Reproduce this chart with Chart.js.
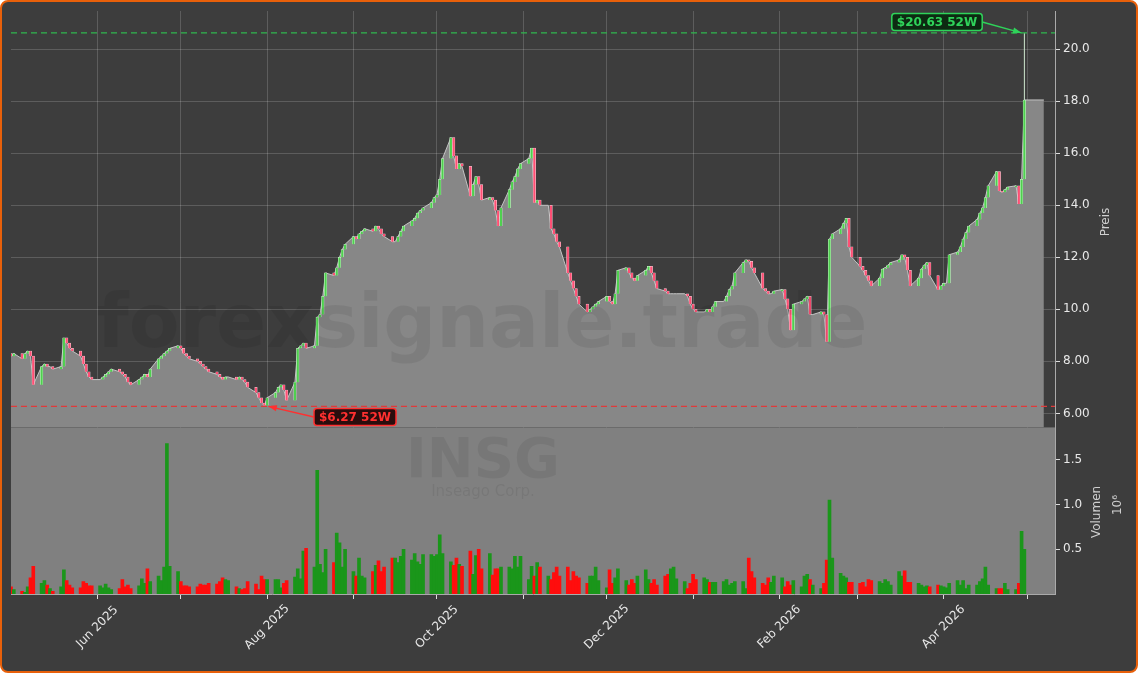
<!DOCTYPE html>
<html lang="en">
<head>
<meta charset="UTF-8">
<title>INSG</title>
<script src="https://cdn.jsdelivr.net/npm/chart.js"></script>
<style>
    body { margin: 0; background: #fff; }
    #box {
        position: absolute; left: 0; top: 0; width: 1134px; height: 669px;
        border: 2px solid #e8600a; border-radius: 8px; background: #3d3d3d;
    }
    #myChart { position: absolute; left: -2px; top: -2px; }
</style>
</head>
<body>
<div id="box"><canvas id="myChart" width="1138" height="673"></canvas></div>
<script>
// daily closes, weekdays from 1 May 2025
const closes = [
    8.2,8.3,8.1,8.3,8.4,8.2,7.1,7.8,7.9,7.8,
    7.8,7.7,7.8,8.9,8.7,8.5,8.4,8.2,7.9,7.6,
    7.4,7.3,7.3,7.4,7.5,7.6,7.7,7.6,7.5,7.4,
    7.2,7.1,7.3,7.4,7.5,7.4,7.7,8.1,8.2,8.3,
    8.4,8.5,8.6,8.5,8.3,8.2,8.1,8.0,7.9,7.8,
    7.7,7.6,7.5,7.4,7.3,7.4,7.4,7.3,7.4,7.3,
    7.2,7.0,6.8,6.6,6.4,6.3,6.6,6.8,7.0,7.1,
    6.9,6.5,7.2,8.5,8.6,8.7,8.5,8.6,9.7,9.8,
    10.5,11.4,11.3,11.6,12.0,12.3,12.5,12.8,12.7,12.9,
    13.0,13.1,13.0,13.2,13.1,12.9,12.8,12.6,12.6,12.8,
    13.0,13.2,13.4,13.5,13.7,13.8,13.9,14.1,14.3,14.4,
    15.0,15.8,16.6,15.9,15.4,15.6,15.5,14.35,14.8,15.1,
    14.8,14.2,14.3,14.2,13.8,13.2,13.9,14.6,14.9,15.1,
    15.4,15.6,15.8,16.2,14.1,14.2,14.0,14.0,13.1,12.9,
    12.6,12.4,11.4,11.1,10.8,10.5,10.2,9.9,10.0,10.1,
    10.2,10.3,10.5,10.3,10.2,10.6,11.5,11.6,11.4,11.2,
    11.1,11.3,11.5,11.65,11.4,11.1,10.8,10.7,10.6,10.6,
    10.6,10.6,10.6,10.5,10.2,10.0,9.9,9.9,10.0,9.9,
    10.1,10.3,10.3,10.5,10.76,10.9,11.4,11.8,11.9,11.85,
    11.6,11.4,10.8,10.7,10.6,10.6,10.7,10.76,10.4,10.0,
    9.2,10.2,10.3,10.4,10.5,9.8,9.8,9.9,9.8,8.75,
    12.7,12.9,13.1,13.3,13.5,12.4,12.0,11.65,11.5,11.3,
    11.1,10.9,11.2,11.55,11.6,11.7,11.8,11.9,12.1,12.0,
    11.5,10.9,11.2,11.55,11.7,11.8,11.3,10.75,10.9,11.0,
    11.0,12.1,12.2,12.4,12.7,12.95,13.2,13.45,13.7,13.9,
    14.3,14.75,15.3,14.55,14.5,14.6,14.7,14.75,14.05,15.0,18.05
];
const firstOpen = 8.3;

// volume in millions
const volumes = [
    0.08,0.05,0.03,0.02,0.08,0.18,0.31,0.12,0.15,0.10,
    0.06,0.03,0.08,0.27,0.15,0.10,0.07,0.07,0.14,0.12,
    0.09,0.09,0.09,0.07,0.11,0.07,0.05,0.06,0.16,0.08,
    0.10,0.06,0.09,0.17,0.12,0.28,0.14,0.20,0.15,0.30,
    1.68,0.31,0.25,0.14,0.09,0.09,0.08,0.08,0.11,0.10,
    0.10,0.12,0.11,0.14,0.18,0.16,0.15,0.08,0.06,0.05,
    0.06,0.14,0.11,0.05,0.20,0.16,0.16,0.16,0.16,0.07,
    0.12,0.15,0.19,0.28,0.17,0.48,0.51,0.30,1.38,0.33,
    0.24,0.50,0.35,0.68,0.57,0.30,0.50,0.25,0.20,0.40,
    0.20,0.18,0.25,0.32,0.37,0.25,0.30,0.40,0.40,0.35,
    0.42,0.50,0.38,0.45,0.36,0.33,0.44,0.44,0.42,0.44,
    0.66,0.45,0.36,0.32,0.40,0.33,0.31,0.48,0.22,0.43,
    0.50,0.28,0.45,0.21,0.28,0.28,0.30,0.30,0.28,0.42,
    0.30,0.42,0.16,0.31,0.20,0.35,0.30,0.20,0.16,0.24,
    0.30,0.20,0.30,0.15,0.25,0.20,0.18,0.12,0.20,0.20,
    0.30,0.15,0.07,0.27,0.12,0.18,0.28,0.15,0.10,0.16,
    0.12,0.20,0.27,0.16,0.12,0.16,0.10,0.20,0.22,0.28,
    0.30,0.17,0.14,0.06,0.12,0.22,0.16,0.18,0.16,0.13,
    0.13,0.13,0.14,0.16,0.10,0.12,0.14,0.14,0.06,0.40,
    0.25,0.18,0.12,0.10,0.18,0.13,0.20,0.18,0.08,0.14,
    0.10,0.15,0.08,0.20,0.22,0.16,0.10,0.06,0.12,0.38,
    1.05,0.40,0.23,0.20,0.18,0.13,0.13,0.12,0.13,0.08,
    0.16,0.15,0.14,0.12,0.16,0.14,0.10,0.25,0.20,0.26,
    0.13,0.13,0.12,0.10,0.08,0.09,0.08,0.10,0.09,0.08,
    0.07,0.12,0.15,0.10,0.15,0.06,0.10,0.10,0.14,0.17,
    0.30,0.10,0.06,0.06,0.06,0.12,0.05,0.05,0.12,0.70,0.50
];

const high52 = 20.63;
const low52 = 6.27;
const priceTicks = [6, 8, 10, 12, 14, 16, 18, 20];
const volTicks = [0.5, 1.0, 1.5];
const monthNames = ['Jan','Feb','Mar','Apr','May','Jun','Jul','Aug','Sep','Oct','Nov','Dec'];

const start = Date.UTC(2025, 4, 1);
const DAY = 86400000;

// trading days (weekdays) from start
const days = [];
let t = start;
while (days.length < closes.length) {
    const wd = new Date(t).getUTCDay();
    if (wd !== 0 && wd !== 6) days.push((t - start) / DAY);
    t += DAY;
}
const monthTicks = [];
for (let m = 5; m <= 16; m++) {
    const d = Date.UTC(2025, m, 1);
    const dt = new Date(d);
    monthTicks.push({ value: (d - start) / DAY, label: (m % 2 === 1) ? monthNames[dt.getUTCMonth()] + ' ' + dt.getUTCFullYear() : '' });
}

const opens = closes.map((c, i) => i === 0 ? firstOpen : closes[i - 1]);
const candleData = closes.map((c, i) => ({ x: days[i], y: [opens[i], c] }));
const up = closes.map((c, i) => c >= opens[i]);
const areaData = closes.map((c, i) => ({ x: days[i], y: c }));
areaData.push({ x: days[days.length - 1] + 7, y: closes[closes.length - 1] });
const volData = volumes.map((v, i) => ({ x: days[i], y: v }));

const overlay = {
    id: 'overlay',
    beforeDatasetsDraw(chart) {
        const { ctx, chartArea: a, scales } = chart;
        const yv = scales.yv;
        ctx.save();
        ctx.fillStyle = '#808080';
        ctx.fillRect(a.left, yv.top, a.right - a.left, yv.bottom - yv.top);
        ctx.restore();
    },
    afterDatasetsDraw(chart) {
        const { ctx, chartArea: a, scales } = chart;
        const x = scales.x, y = scales.y, yv = scales.yv;
        ctx.save();
        // watermarks
        ctx.fillStyle = 'rgba(0,0,0,0.07)';
        ctx.textAlign = 'center';
        ctx.textBaseline = 'middle';
        ctx.font = 'bold 74px "DejaVu Sans"';
        ctx.fillText('forexsignale.trade', 482, 328);
        ctx.font = 'bold 56px "DejaVu Sans"';
        ctx.fillText('INSG', 483, 462);
        ctx.font = '15px "DejaVu Sans"';
        ctx.fillText('Inseago Corp.', 483, 492);

        // wick for the last candle up to the 52W high
        const lx = x.getPixelForValue(days[days.length - 1]);
        ctx.strokeStyle = '#cfe8cf';
        ctx.lineWidth = 1;
        ctx.beginPath();
        ctx.moveTo(lx, y.getPixelForValue(high52));
        ctx.lineTo(lx, y.getPixelForValue(closes[closes.length - 1]));
        ctx.stroke();

        // 52W lines
        ctx.setLineDash([6, 4]);
        ctx.lineWidth = 1.3;
        const hy = y.getPixelForValue(high52), ly = y.getPixelForValue(low52);
        ctx.strokeStyle = '#2fb84f';
        ctx.beginPath(); ctx.moveTo(a.left, hy); ctx.lineTo(a.right, hy); ctx.stroke();
        ctx.strokeStyle = '#e03a3a';
        ctx.beginPath(); ctx.moveTo(a.left, ly); ctx.lineTo(a.right, ly); ctx.stroke();
        ctx.setLineDash([]);

        const lowX = x.getPixelForValue(days[closes.indexOf(Math.min(...closes))]);
        drawTag(ctx, '$20.63 52W', 937, 22, '#2fd35a', '#0d2a12', lx - 3, hy);
        drawTag(ctx, '$6.27 52W', 355, 417, '#ff3030', '#2a0d0d', lowX + 4, ly);

        // axis titles, reading bottom to top
        ctx.fillStyle = '#cfcfcf';
        ctx.font = '12px "DejaVu Sans"';
        ctx.textAlign = 'center'; ctx.textBaseline = 'middle';
        vText(ctx, 'Preis', 1106, 222, -Math.PI / 2);
        vText(ctx, 'Volumen', 1097, 512, -Math.PI / 2);
        vText(ctx, '10⁶', 1118, 505, -Math.PI / 2);

        // month labels, centred under their tick
        ctx.fillStyle = '#e8e8e8';
        ctx.font = '12px "DejaVu Sans"';
        monthTicks.forEach(m => {
            if (m.label) vText(ctx, m.label, x.getPixelForValue(m.value), 627, -Math.PI / 4);
        });
        ctx.restore();
    }
};

function vText(ctx, s, x, y, rot) {
    ctx.save(); ctx.translate(x, y); ctx.rotate(rot); ctx.fillText(s, 0, 0); ctx.restore();
}

function drawTag(ctx, text, cx, cy, col, bg, ax, ay) {
    ctx.font = 'bold 12px "DejaVu Sans"';
    const w = ctx.measureText(text).width + 10, h = 17;
    // arrow
    const sx = cx > ax ? cx - w / 2 : cx + w / 2;
    ctx.strokeStyle = col; ctx.fillStyle = col; ctx.lineWidth = 1.5;
    ctx.beginPath(); ctx.moveTo(sx, cy); ctx.lineTo(ax, ay); ctx.stroke();
    const ang = Math.atan2(ay - cy, ax - sx);
    ctx.beginPath();
    ctx.moveTo(ax, ay);
    ctx.lineTo(ax - 9 * Math.cos(ang - 0.35), ay - 9 * Math.sin(ang - 0.35));
    ctx.lineTo(ax - 9 * Math.cos(ang + 0.35), ay - 9 * Math.sin(ang + 0.35));
    ctx.closePath(); ctx.fill();
    // box
    ctx.fillStyle = bg;
    ctx.beginPath();
    ctx.roundRect(cx - w / 2, cy - h / 2, w, h, 3);
    ctx.fill(); ctx.stroke();
    ctx.fillStyle = col;
    ctx.textAlign = 'center'; ctx.textBaseline = 'middle';
    ctx.fillText(text, cx, cy + 1);
}

const fixWidth = (s) => { s.width = 82; };

new Chart(document.getElementById('myChart'), {
    data: {
        datasets: [
            {
                type: 'bar', label: 'candles', data: candleData, yAxisID: 'y', grouped: false,
                backgroundColor: up.map(u => u ? '#4fd04f' : '#ff4f74'),
                borderColor: up.map(u => u ? '#dff5df' : '#f5dfe4'),
                borderWidth: 0.5, barThickness: 2.5, order: 1
            },
            {
                type: 'line', label: 'area', data: areaData, yAxisID: 'y',
                borderColor: '#c4c4c4', borderWidth: 1, pointRadius: 0,
                fill: 'start', backgroundColor: '#878787', tension: 0, order: 2
            },
            {
                type: 'bar', label: 'volume', data: volData, yAxisID: 'yv', grouped: false,
                backgroundColor: up.map(u => u ? '#1a961a' : '#ff0d0d'),
                barThickness: 3, order: 3
            }
        ]
    },
    options: {
        responsive: false,
        animation: false,
        layout: { padding: { left: 11, top: 11, right: 1, bottom: 0 } },
        plugins: { legend: { display: false }, tooltip: { enabled: false } },
        scales: {
            x: {
                type: 'linear', min: 0, max: 375, offset: false,
                afterBuildTicks: (s) => { s.ticks = monthTicks.map(m => ({ value: m.value })); },
                afterFit: (s) => { s.height = 79; },
                ticks: { autoSkip: false, maxRotation: 0, callback: () => '' },
                grid: { offset: false, color: 'rgba(255,255,255,0.17)', tickColor: '#ddd', tickLength: 5 },
                border: { color: '#aaa' }
            },
            y: {
                position: 'right', stack: 'p', stackWeight: 2.5,
                min: 5.46, max: 21.47,
                afterBuildTicks: (s) => { s.ticks = priceTicks.map(v => ({ value: v })); },
                afterFit: fixWidth,
                ticks: {
                    color: '#e8e8e8', font: { family: 'DejaVu Sans', size: 12 },
                    callback: (v) => v < 10 ? v.toFixed(2) : v.toFixed(1)
                },
                grid: { color: 'rgba(255,255,255,0.17)', tickColor: '#ddd', tickLength: 5 },
                border: { color: '#aaa' }
            },
            yv: {
                position: 'right', stack: 'p', stackWeight: 1,
                min: 0, max: 1.86,
                afterBuildTicks: (s) => { s.ticks = volTicks.map(v => ({ value: v })); },
                afterFit: fixWidth,
                ticks: {
                    color: '#e8e8e8', font: { family: 'DejaVu Sans', size: 12 },
                    callback: (v) => v.toFixed(1)
                },
                grid: { drawOnChartArea: false, tickColor: '#ddd', tickLength: 5 },
                border: { color: '#aaa' }
            }
        }
    },
    plugins: [overlay]
});
</script>
</body>
</html>
